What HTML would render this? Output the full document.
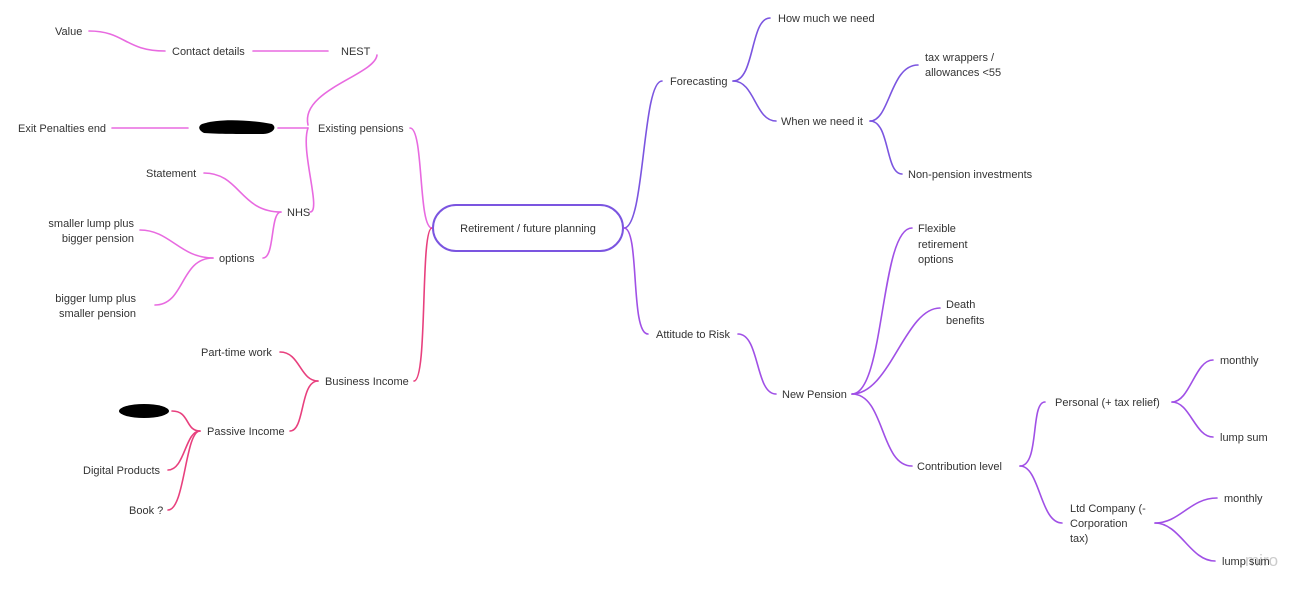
<!DOCTYPE html>
<html><head><meta charset="utf-8"><style>
html,body{margin:0;padding:0;background:#fff;width:1312px;height:592px;overflow:hidden}
svg text{font-family:"Liberation Sans",sans-serif;font-size:11px;fill:#333}
</style></head><body>
<svg width="1312" height="592" viewBox="0 0 1312 592" xmlns="http://www.w3.org/2000/svg">
<g fill="none" stroke-width="1.6" stroke-linecap="round">
<!-- left pink -->
<g stroke="#e86ae0">
<path d="M432 228 C418 228,424 128,410 128"/>
<path d="M308 125 C300 90,375 75,377 55"/>
<path d="M278 128 L308 128"/>
<path d="M310 212 C322 212,300 150,308 128"/>
<path d="M328 51 L253 51"/>
<path d="M165 51 C125 51,125 31,89 31"/>
<path d="M188 128 L112 128"/>
<path d="M281 212 C240 212,240 173,204 173"/>
<path d="M281 212 C270 212,275 258,263 258"/>
<path d="M213 258 C180 258,170 230,140 230"/>
<path d="M213 258 C180 258,185 305,155 305"/>
</g>
<g stroke="#e8407e">
<path d="M432 228 C420 228,428 381,414 381"/>
<path d="M318 381 C300 381,300 352,280 352"/>
<path d="M318 381 C300 381,305 431,290 431"/>
<path d="M200 431 C185 431,190 411,172 411"/>
<path d="M200 431 C185 431,185 470,168 470"/>
<path d="M200 431 C185 431,185 510,168 510"/>
</g>
<rect x="433" y="205" width="190" height="46" rx="23" stroke="#7b55e0" stroke-width="2"/>
<g stroke="#7b55e0">
<path d="M624 228 C645 228,642 81,662 81"/>
<path d="M733 81 C755 81,750 18,770 18"/>
<path d="M733 81 C755 81,755 121,776 121"/>
<path d="M870 121 C890 121,890 65,918 65"/>
<path d="M870 121 C890 121,885 174,902 174"/>
</g>
<g stroke="#a050e6">
<path d="M624 228 C640 228,630 334,648 334"/>
<path d="M738 334 C760 334,755 394,776 394"/>
<path d="M852 394 C885 394,880 228,912 228"/>
<path d="M852 394 C890 394,905 308,940 308"/>
<path d="M852 394 C885 394,880 466,912 466"/>
<path d="M1020 466 C1040 466,1030 402,1045 402"/>
<path d="M1020 466 C1040 466,1040 523,1062 523"/>
<path d="M1172 402 C1190 402,1195 360,1213 360"/>
<path d="M1172 402 C1190 402,1195 437,1213 437"/>
<path d="M1155 523 C1180 523,1190 498,1217 498"/>
<path d="M1155 523 C1180 523,1190 561,1215 561"/>
</g>
</g>
<!-- redactions -->
<path d="M202 124 C220 118,250 120,272 124 C278 128,272 134,262 134 C240 134,215 134,204 133 C198 130,198 126,202 124Z" fill="#000"/>
<ellipse cx="144" cy="411" rx="25" ry="7" fill="#000"/>
<text x="1245" y="566" style="font-size:17px;fill:#ccc">miro</text>
<text x="528" y="232" text-anchor="middle">Retirement / future planning</text>
<text x="55" y="35">Value</text>
<text x="172" y="55">Contact details</text>
<text x="341" y="55">NEST</text>
<text x="18" y="132">Exit Penalties end</text>
<text x="318" y="132">Existing pensions</text>
<text x="146" y="177">Statement</text>
<text x="287" y="216">NHS</text>
<text x="134" y="227" text-anchor="end">smaller lump plus</text>
<text x="134" y="242" text-anchor="end">bigger pension</text>
<text x="219" y="262">options</text>
<text x="136" y="302" text-anchor="end">bigger lump plus</text>
<text x="136" y="317" text-anchor="end">smaller pension</text>
<text x="201" y="356">Part-time work</text>
<text x="325" y="385">Business Income</text>
<text x="207" y="435">Passive Income</text>
<text x="83" y="474">Digital Products</text>
<text x="129" y="514">Book ?</text>
<text x="670" y="85">Forecasting</text>
<text x="778" y="22">How much we need</text>
<text x="781" y="125">When we need it</text>
<text x="925" y="61">tax wrappers /</text>
<text x="925" y="76">allowances &lt;55</text>
<text x="908" y="178">Non-pension investments</text>
<text x="656" y="338">Attitude to Risk</text>
<text x="782" y="398">New Pension</text>
<text x="918" y="232">Flexible</text>
<text x="918" y="248">retirement</text>
<text x="918" y="263">options</text>
<text x="946" y="308">Death</text>
<text x="946" y="324">benefits</text>
<text x="917" y="470">Contribution level</text>
<text x="1055" y="406">Personal (+ tax relief)</text>
<text x="1070" y="512">Ltd Company (-</text>
<text x="1070" y="527">Corporation</text>
<text x="1070" y="542">tax)</text>
<text x="1220" y="364">monthly</text>
<text x="1220" y="441">lump sum</text>
<text x="1224" y="502">monthly</text>
<text x="1222" y="565">lump sum</text>
</svg>
</body></html>
